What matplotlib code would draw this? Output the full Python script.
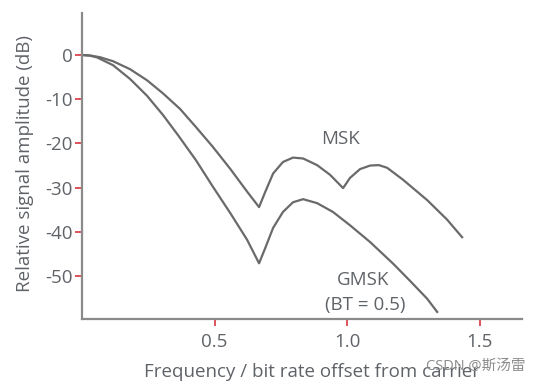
import matplotlib
matplotlib.use("Agg")
import matplotlib.pyplot as plt

# values
msk_x = [0.0, 0.03, 0.068, 0.117, 0.181, 0.245, 0.306, 0.37, 0.43, 0.494, 0.56, 0.623, 0.668,
         0.691, 0.721, 0.758, 0.796, 0.834, 0.887, 0.936, 0.985, 1.011, 1.049, 1.087,
         1.12, 1.151, 1.211, 1.302, 1.377, 1.434]
msk_y = [0.0, -0.1, -0.5, -1.4, -3.2, -5.7, -8.7, -12.2, -16.3, -20.8, -25.8, -30.9, -34.4,
         -31.0, -26.8, -24.2, -23.2, -23.4, -24.9, -27.1, -30.1, -27.8, -25.8, -25.0,
         -24.9, -25.5, -28.2, -32.8, -37.2, -41.2]

gmsk_x = [0.0, 0.03, 0.057, 0.117, 0.181, 0.245, 0.306, 0.362, 0.43, 0.494, 0.56, 0.623, 0.668,
          0.691, 0.721, 0.758, 0.796, 0.834, 0.887, 0.947, 1.011, 1.087, 1.174, 1.238,
          1.302, 1.34]
gmsk_y = [0.0, -0.15, -0.55, -2.3, -5.4, -9.2, -13.6, -18.1, -23.8, -29.8, -35.8, -41.8, -47.1,
          -43.7, -39.1, -35.5, -33.3, -32.6, -33.5, -35.5, -38.5, -42.3, -47.2, -51.1,
          -55.1, -58.1]

x_ticks = [0.5, 1.0, 1.5]
y_ticks = [0, -10, -20, -30, -40, -50]

text_color = "#5f6368"
line_color = "#6a6a6a"
plt.rcParams["font.family"] = ["Open Sans", "Noto Sans CJK SC", "DejaVu Sans"]

fig = plt.figure(figsize=(5.41, 3.85), dpi=100)
ax = fig.add_axes([82 / 541, 1 - 319 / 385, 440 / 541, 306 / 385])

ax.plot(msk_x, msk_y, color=line_color, lw=1.6, solid_joinstyle="round")
ax.plot(gmsk_x, gmsk_y, color=line_color, lw=1.6, solid_joinstyle="round")

ax.set_xlim(0, 1.66)
ax.set_ylim(-59.7, 9.5)
ax.set_xticks(x_ticks)
ax.set_xticklabels([f"{v:.1f}" for v in x_ticks])
ax.set_yticks(y_ticks)
ax.set_yticklabels([str(v) for v in y_ticks])

for side in ["top", "right"]:
    ax.spines[side].set_visible(False)
for side in ["left", "bottom"]:
    ax.spines[side].set_color("#8a8a8a")
    ax.spines[side].set_linewidth(1.6)

ax.tick_params(axis="both", colors="#d9363e", labelcolor=text_color,
               labelsize=13.5, length=5, width=1.2)
ax.tick_params(axis="x", pad=5)
ax.tick_params(axis="y", pad=2)

ax.text(0.974, -19.0, "MSK", ha="center", va="center", fontsize=13.5, color=text_color)
ax.text(1.06, -50.9, "GMSK", ha="center", va="center", fontsize=13.5, color=text_color)
ax.text(1.068, -56.6, "(BT = 0.5)", ha="center", va="center", fontsize=13.5, color=text_color)

fig.text(312 / 541, 1 - 372 / 385, "Frequency / bit rate offset from carrier",
         ha="center", va="center", fontsize=13.5, color=text_color)
fig.text(25 / 541, 1 - 163 / 385, "Relative signal amplitude (dB)",
         ha="center", va="center", rotation=90, fontsize=13.5, color=text_color)

fig.text(476 / 541, 1 - 366 / 385, "CSDN @斯汤雷", ha="center", va="center",
         fontsize=10.5, color="#8c8c8c")

fig.savefig("out.png", dpi=100)
